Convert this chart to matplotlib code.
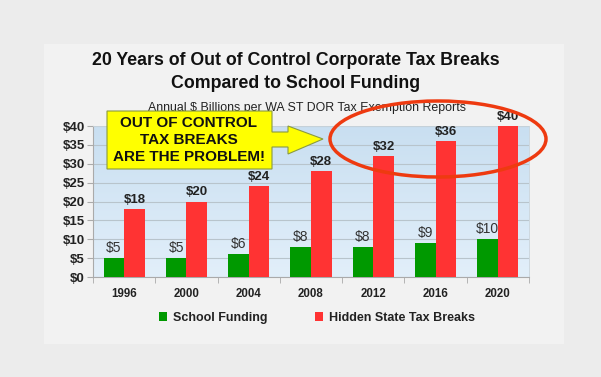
import numpy as np
import matplotlib
matplotlib.use("Agg")
from matplotlib import pyplot as plt
from matplotlib.patches import Rectangle, Ellipse, Polygon
from matplotlib.colors import LinearSegmentedColormap

years = ["1996", "2000", "2004", "2008", "2012", "2016", "2020"]
school_funding = [5, 5, 6, 8, 8, 9, 10]
tax_breaks = [18, 20, 24, 28, 32, 36, 40]
y_ticks = [0, 5, 10, 15, 20, 25, 30, 35, 40]

W, H = 601, 377
plt.rcParams['font.family'] = ['Liberation Sans', 'DejaVu Sans']

fig = plt.figure(figsize=(W / 100, H / 100), dpi=100)
fig.patch.set_facecolor('#ececec')

def px(x, y):
    # figure pixel (from top-left) -> figure fraction
    return x / W, 1 - y / H

# lighter slide panel
x0, y0 = px(44, 344)
fig.add_artist(Rectangle((x0, y0), (564 - 44) / W, (344 - 44) / H,
                         transform=fig.transFigure, facecolor='#f2f2f2',
                         edgecolor='none', zorder=0))

ax = fig.add_axes([93 / W, 1 - 277 / H, 436 / W, 151 / H])
ax.set_facecolor('none')

# light blue gradient for the plot area
grad = np.linspace(0, 1, 100).reshape(-1, 1)
bg = LinearSegmentedColormap.from_list('bg', ['#c9dff1', '#e2effa'])
ax.imshow(grad, cmap=bg, extent=[0, 1, 0, 1], transform=ax.transAxes,
          aspect='auto', zorder=0)

x = np.arange(len(years))
bw = 0.33
ax.bar(x - bw / 2, school_funding, bw, color='#009900', zorder=3,
       label='School Funding')
ax.bar(x + bw / 2, tax_breaks, bw, color='#ff3333', zorder=3,
       label='Hidden State Tax Breaks')

for i in range(len(years)):
    ax.text(x[i] - bw / 2, school_funding[i] + 0.8, "$%d" % school_funding[i],
            ha='center', va='bottom', fontsize=10, color='#333333', zorder=4)
    ax.text(x[i] + bw / 2, tax_breaks[i] + 0.8, "$%d" % tax_breaks[i],
            ha='center', va='bottom', fontsize=9.5, fontweight='bold',
            color='#222222', zorder=4)

ax.set_xlim(-0.5, len(years) - 0.5)
ax.set_ylim(0, 40)
ax.set_yticks(y_ticks)
ax.set_yticklabels(["$%d" % v for v in y_ticks], fontsize=9.5,
                   fontweight='bold', color='#222222')
ax.yaxis.grid(True, color='#b8c4cc', linewidth=0.8, zorder=1)
ax.set_axisbelow(True)

ax.set_xticks(x)
ax.set_xticklabels(years, fontsize=8.3, fontweight='bold', color='#222222')
ax.tick_params(axis='x', length=0, pad=8)
ax.set_xticks(np.arange(-0.5, len(years)), minor=True)
ax.tick_params(axis='x', which='minor', length=4, color='#aaaaaa')
ax.tick_params(axis='y', length=4, color='#aaaaaa', pad=2)

for s in ['left', 'bottom']:
    ax.spines[s].set_color('#aaaaaa')
for s in ['top', 'right']:
    ax.spines[s].set_color('#c8d4dc')
    ax.spines[s].set_linewidth(0.6)

leg = ax.legend(loc='center', bbox_to_anchor=(0.514, -41 / 151), ncol=2,
                frameon=False, handlelength=0.65, handleheight=0.65,
                columnspacing=3.8, handletextpad=0.5,
                prop={'weight': 'bold', 'size': 9})
for t in leg.get_texts():
    t.set_color('#222222')

# titles
tx, ty = px(296, 72)
fig.text(tx, ty, "20 Years of Out of Control Corporate Tax Breaks\nCompared to School Funding",
         ha='center', va='center', fontsize=12.8, fontweight='bold',
         color='#111111', linespacing=1.4)
sx, sy = px(307, 108)
fig.text(sx, sy, "Annual $ Billions per WA ST DOR Tax Exemption Reports",
         ha='center', va='center', fontsize=8.9, color='#222222')

# yellow callout with arrow
pts = [(107, 111), (272, 111), (272, 132), (288, 132), (288, 126),
       (323, 139), (288, 154), (288, 147), (272, 147), (272, 169),
       (107, 169)]
fig.add_artist(Polygon([px(a, b) for a, b in pts], closed=True,
                       transform=fig.transFigure, facecolor='#ffff00',
                       edgecolor='#8a9a40', linewidth=0.8, zorder=5))
cx, cy = px(189, 140)
fig.text(cx, cy, "OUT OF CONTROL\nTAX BREAKS\nARE THE PROBLEM!", ha='center',
         va='center', fontsize=11, fontweight='bold', color='#111111',
         linespacing=1.25, zorder=6)

# red ellipse around recent years
ex, ey = px(438, 139)
fig.add_artist(Ellipse((ex, ey), 216 / W, 76 / H, transform=fig.transFigure,
                       fill=False, edgecolor='#ee3a10', linewidth=2.5,
                       zorder=6))

fig.savefig("out.png", dpi=100, facecolor=fig.get_facecolor())
